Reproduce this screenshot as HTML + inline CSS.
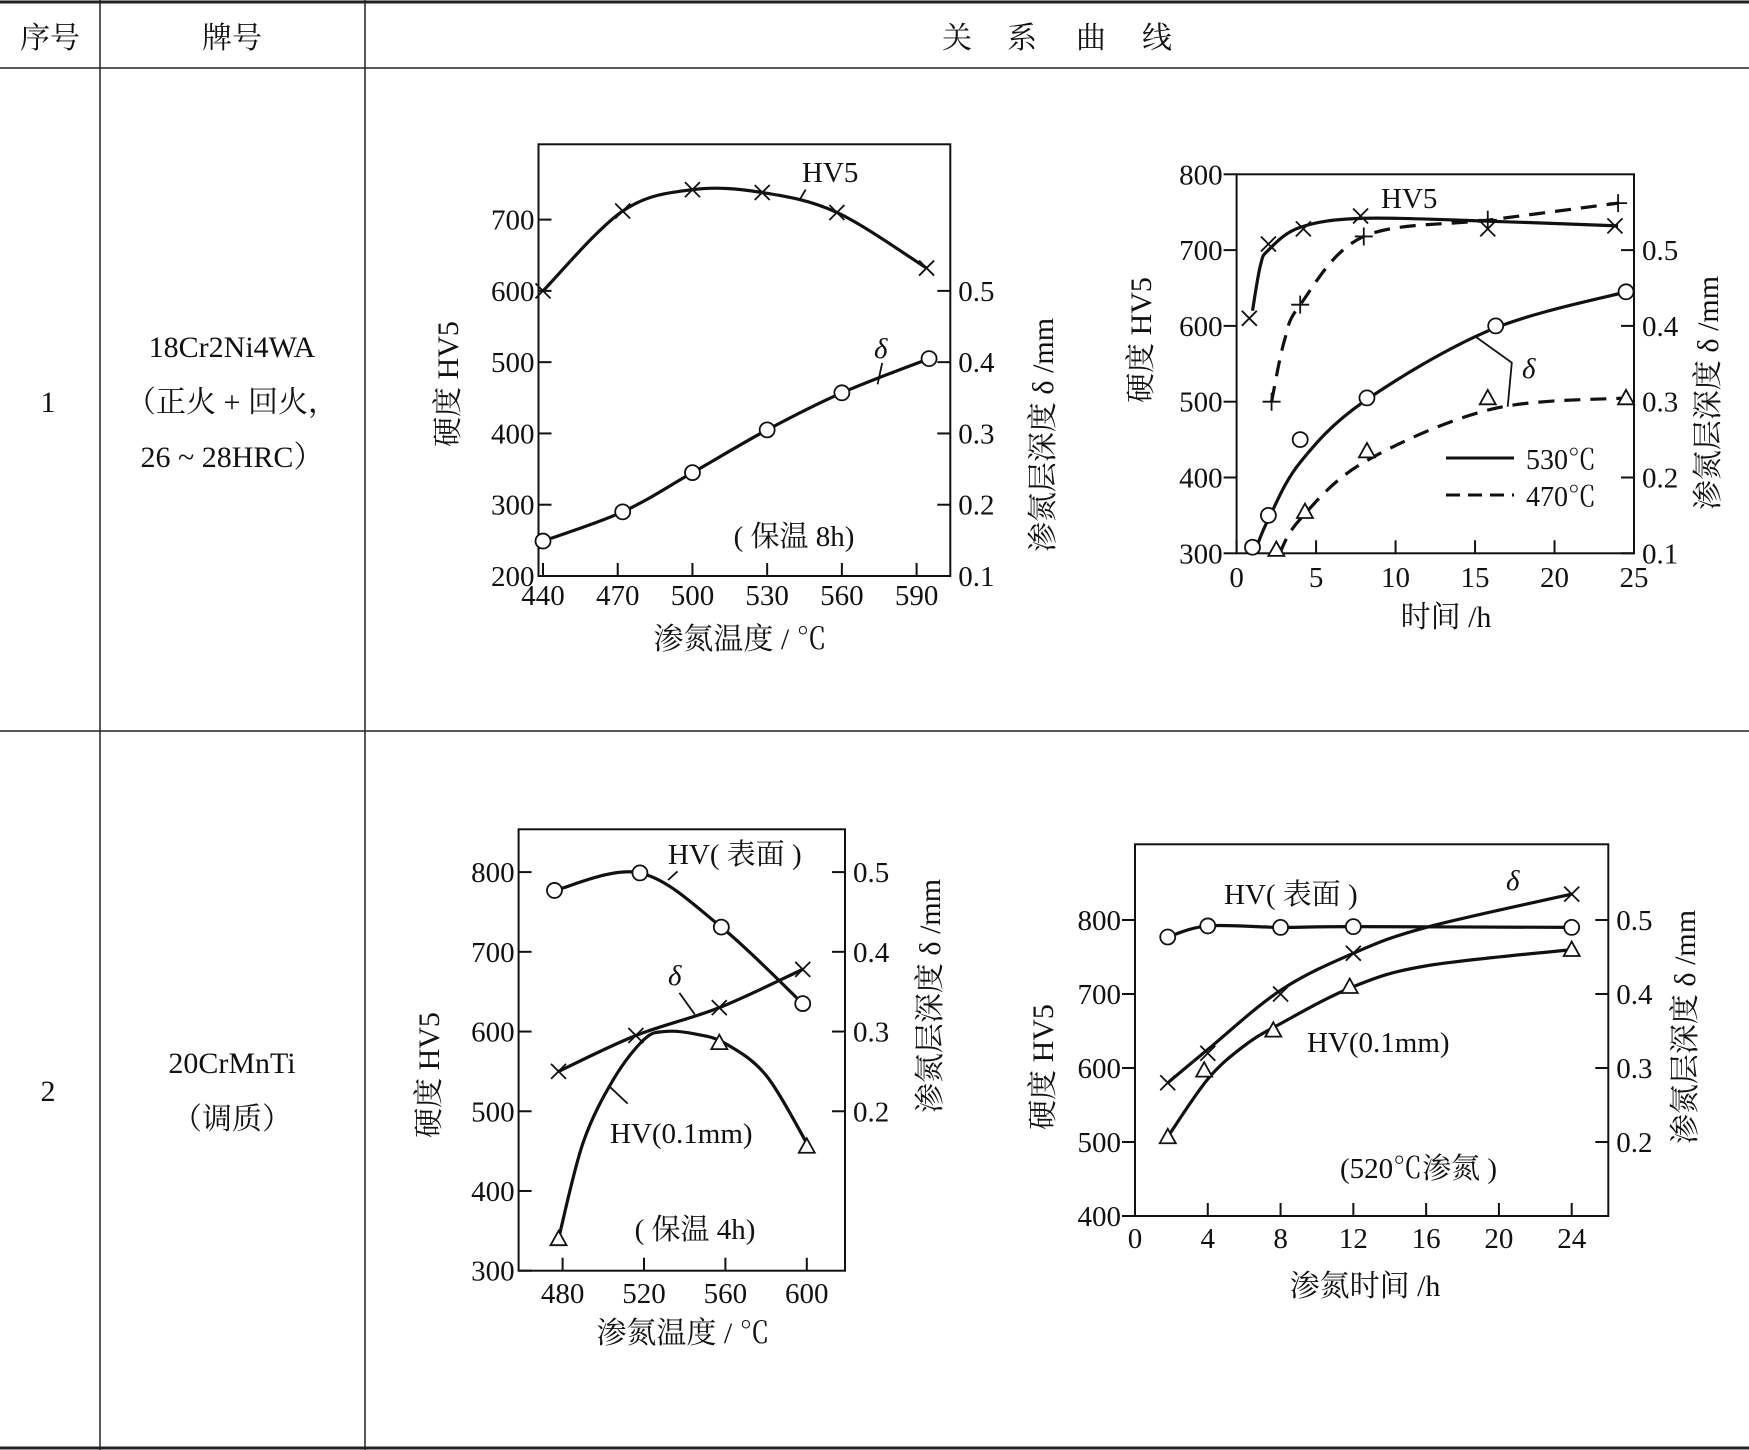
<!DOCTYPE html>
<html><head><meta charset="utf-8">
<style>
html,body{margin:0;padding:0;background:#fff;}
svg{display:block;}
text{font-family:"Liberation Serif","Noto Serif CJK SC",serif;fill:#111;}
</style></head>
<body>
<svg id="s" width="1749" height="1450" viewBox="0 0 1749 1450" xmlns="http://www.w3.org/2000/svg">
<g stroke="#222" fill="none">
<line x1="0" y1="2" x2="1749" y2="2" stroke-width="3"/>
<line x1="0" y1="68" x2="1749" y2="68" stroke-width="1.5"/>
<line x1="0" y1="731" x2="1749" y2="731" stroke-width="1.5"/>
<line x1="0" y1="1448" x2="1749" y2="1448" stroke-width="3"/>
<line x1="100" y1="0" x2="100" y2="1450" stroke-width="1.5"/>
<line x1="365" y1="0" x2="365" y2="1450" stroke-width="1.5"/>
</g>
<g font-size="30" text-anchor="middle">
<text x="50" y="48">序号</text>
<text x="232" y="48">牌号</text>
<g>
<text x="957" y="48">关</text><text x="1022" y="48">系</text><text x="1091" y="48">曲</text><text x="1157" y="48">线</text>
</g>
<text x="48" y="412">1</text>
<text x="232" y="357">18Cr2Ni4WA</text>
<text x="232" y="412">（正火 + 回火，</text>
<text x="232" y="467">26 ~ 28HRC）</text>
<text x="48" y="1101">2</text>
<text x="232" y="1073">20CrMnTi</text>
<text x="232" y="1129">（调质）</text>
</g>
<g id="charts"></g>
</svg>
<script>
// ---- Chart 1 data (temperature, 8h) ----
const c1Temps = [440, 472, 500, 528, 558, 594];
const c1HV = [600, 712, 742, 738, 710, 632];
const c1DeltaTemps = [440, 472, 500, 530, 560, 595];
const c1Delta = [0.149, 0.19, 0.245, 0.305, 0.357, 0.405];
const c1XTicks = [440, 470, 500, 530, 560, 590];
const c1YTicks = [200, 300, 400, 500, 600, 700];
const c1RTicks = [0.1, 0.2, 0.3, 0.4, 0.5];
// ---- Chart 2 data (time) ----
const c2HV530T = [0.8, 2, 4.2, 7.8, 15.8, 23.8];
const c2HV530 = [610, 708, 728, 745, 728, 732];
const c2HV530CurveT = [1, 1.5, 2, 4, 8, 16, 24];
const c2HV530Curve = [620, 680, 700, 730, 742, 738, 732];
const c2HV470T = [2.2, 4, 8, 15.8, 24];
const c2HV470 = [500, 628, 718, 740, 762];
const c2HV470CurveT = [2.2, 3, 4, 8, 16, 24];
const c2HV470Curve = [500, 580, 628, 718, 740, 762];
const c2D530T = [1, 2, 4, 8.2, 16.3, 24.5];
const c2D530 = [0.108, 0.15, 0.25, 0.305, 0.4, 0.445];
const c2D530CurveT = [1.2, 2, 4, 8, 16, 24.5];
const c2D530Curve = [0.105, 0.145, 0.22, 0.3, 0.395, 0.445];
const c2D470T = [2.5, 4.3, 8.2, 15.8, 24.5];
const c2D470 = [0.105, 0.155, 0.235, 0.305, 0.305];
const c2D470CurveT = [2.7, 4, 8, 16, 24.5];
const c2D470Curve = [0.1, 0.145, 0.22, 0.29, 0.305];
const c2XTicks = [0, 5, 10, 15, 20, 25];
const c2YTicks = [300, 400, 500, 600, 700, 800];
const c2RTicks = [0.1, 0.2, 0.3, 0.4, 0.5];
// ---- Chart 3 data (temperature, 4h) ----
const c3SurfT = [476, 518, 558, 598];
const c3Surf = [777, 799, 731, 635];
const c3DT = [478, 516, 557, 598];
const c3D = [0.25, 0.295, 0.33, 0.378];
const c3HVT = [478, 557, 600];
const c3HV = [340, 586, 456];
const c3HVCurveT = [478, 490, 505, 520, 530, 545, 560, 580, 600];
const c3HVCurve = [340, 460, 540, 590, 600, 597, 585, 545, 460];
const c3XTicks = [480, 520, 560, 600];
const c3YTicks = [300, 400, 500, 600, 700, 800];
const c3RTicks = [0.2, 0.3, 0.4, 0.5];
// ---- Chart 4 data (time, 520C) ----
const c4SurfT = [1.8, 4, 8, 12, 24];
const c4Surf = [777, 792, 790, 791, 790];
const c4DT = [1.8, 4, 8, 12, 24];
const c4D = [0.28, 0.32, 0.40, 0.455, 0.535];
const c4DCurveT = [1.8, 4, 8, 12, 16, 24];
const c4DCurve = [0.28, 0.325, 0.405, 0.455, 0.49, 0.535];
const c4HVT = [1.8, 3.8, 7.6, 11.8, 24];
const c4HV = [507, 597, 651, 710, 760];
const c4HVCurveT = [1.8, 4, 6, 8, 12, 16, 24];
const c4HVCurve = [507, 585, 630, 660, 710, 738, 760];
const c4XTicks = [0, 4, 8, 12, 16, 20, 24];
const c4YTicks = [400, 500, 600, 700, 800];
const c4RTicks = [0.2, 0.3, 0.4, 0.5];

const NS = 'http://www.w3.org/2000/svg';
const root = document.getElementById('charts');
function mk(tag, attrs, parent) {
  const e = document.createElementNS(NS, tag);
  for (const k in attrs) e.setAttribute(k, attrs[k]);
  (parent || root).appendChild(e);
  return e;
}
function lin(d0, d1, p0, p1) { return v => p0 + (v - d0) * (p1 - p0) / (d1 - d0); }
function pathD(pts) {
  if (pts.length < 3) return 'M' + pts.map(p => p.join(',')).join('L');
  let d = 'M' + pts[0][0] + ',' + pts[0][1];
  for (let i = 0; i < pts.length - 1; i++) {
    const p0 = pts[i - 1] || pts[i], p1 = pts[i], p2 = pts[i + 1], p3 = pts[i + 2] || p2;
    const c1 = [p1[0] + (p2[0] - p0[0]) / 6, p1[1] + (p2[1] - p0[1]) / 6];
    const c2 = [p2[0] - (p3[0] - p1[0]) / 6, p2[1] - (p3[1] - p1[1]) / 6];
    d += 'C' + c1.join(',') + ' ' + c2.join(',') + ' ' + p2.join(',');
  }
  return d;
}
function curve(g, xs, ys, sx, sy, name, dash) {
  const pts = xs.map((x, i) => [sx(x), sy(ys[i])]);
  const p = mk('path', { d: pathD(pts), fill: 'none', stroke: '#111', 'stroke-width': 3.2 }, g);
  if (dash) p.setAttribute('stroke-dasharray', '16 10');
  
  
}
function markers(g, xs, ys, sx, sy, kind, name) {
  xs.forEach((x, i) => {
    const cx = sx(x), cy = sy(ys[i]);
    let e;
    if (kind === 'o') e = mk('circle', { cx: cx, cy: cy, r: 7.5, fill: '#fff', stroke: '#111', 'stroke-width': 1.8 }, g);
    else if (kind === 'x') { const s = 7.5; e = mk('path', { d: `M${cx-s},${cy-s}L${cx+s},${cy+s}M${cx-s},${cy+s}L${cx+s},${cy-s}`, stroke: '#111', 'stroke-width': 1.8, fill: 'none' }, g); }
    else if (kind === '+') { const s = 9; e = mk('path', { d: `M${cx-s},${cy}L${cx+s},${cy}M${cx},${cy-s}L${cx},${cy+s}`, stroke: '#111', 'stroke-width': 1.8, fill: 'none' }, g); }
    else { const s = 8; e = mk('path', { d: `M${cx},${cy-s}L${cx+s},${cy+s*0.8}L${cx-s},${cy+s*0.8}Z`, stroke: '#111', 'stroke-width': 1.8, fill: '#fff' }, g); }
    
    
  });
}
function txt(g, x, y, s, name, opts) {
  const t = mk('text', Object.assign({ x: x, y: y, 'font-size': 29 }, opts || {}), g);
  t.textContent = s;
  
  
  return t;
}
function frame(g, box, sx, sy, syR, xt, yt, rt, leftOut, xlabY) {
  const r = mk('rect', { x: box[0], y: box[1], width: box[2] - box[0], height: box[3] - box[1], fill: 'none', stroke: '#111', 'stroke-width': 2 }, g);
  
  
  xt.forEach(v => {
    const x = sx(v);
    mk('line', { x1: x, y1: box[3], x2: x, y2: box[3] - 13, stroke: '#111', 'stroke-width': 2 }, g);
    txt(g, x, xlabY, String(v), 'x-tick-label', { 'text-anchor': 'middle' });
  });
  yt.forEach(v => {
    const y = sy(v);
    mk('line', { x1: box[0], y1: y, x2: leftOut ? box[0] - 13 : box[0] + 13, y2: y, stroke: '#111', 'stroke-width': 2 }, g);
    txt(g, box[0] - (leftOut ? 14 : 4), y + 10, String(v), 'y-tick-label', { 'text-anchor': 'end' });
  });
  rt.forEach(v => {
    const y = syR(v);
    mk('line', { x1: box[2], y1: y, x2: box[2] - 13, y2: y, stroke: '#111', 'stroke-width': 2 }, g);
    txt(g, box[2] + 8, y + 10, v.toFixed(1), 'right-tick-label', {});
  });
}
function vlabel(g, x, y, s, name) {
  return txt(g, 0, 0, s, name, { 'text-anchor': 'middle', 'font-size': 30, transform: `translate(${x + 10},${y}) rotate(-90)` });
}
function group(name) {
  const g = mk('g', {});
  
  
  return g;
}
function lead(g, pts) { mk('path', { d: 'M' + pts.map(p => p.join(',')).join('L'), fill: 'none', stroke: '#111', 'stroke-width': 1.8 }, g); }

// Chart 1
(function () {
  const g = group('chart-temp-8h');
  const box = [538.5, 144.3, 950.3, 576];
  const sx = lin(440, 590, 543, 916.6), sy = lin(200, 700, 576, 219.6);
  const syR = d => sy(100 + d * 1000);
  frame(g, box, sx, sy, syR, c1XTicks, c1YTicks, c1RTicks, false, 605);
  curve(g, c1Temps, c1HV, sx, sy, 'hv5-curve');
  markers(g, c1Temps, c1HV, sx, sy, 'x', 'hv5-point');
  curve(g, c1DeltaTemps, c1Delta, sx, syR, 'delta-curve');
  markers(g, c1DeltaTemps, c1Delta, sx, syR, 'o', 'delta-point');
  txt(g, 802, 182, 'HV5', 'hv5-label');
  lead(g, [[805.7, 189.6], [799.9, 199.3]]);
  txt(g, 874, 358, 'δ', 'delta-label', { 'font-style': 'italic' });
  lead(g, [[882.2, 362.9], [877.6, 384.3]]);
  txt(g, 794, 546, '( 保温 8h)', 'note-label', { 'text-anchor': 'middle' });
  vlabel(g, 448, 384, '硬度 HV5', 'y-axis-title');
  vlabel(g, 1043, 435, '渗氮层深度 δ /mm', 'y2-axis-title');
  txt(g, 740, 649, '渗氮温度 / ℃', 'x-axis-title', { 'text-anchor': 'middle', 'font-size': 30 });
})();

// Chart 2
(function () {
  const g = group('chart-time-hv-delta');
  const box = [1236.6, 174.3, 1634, 553.3];
  const sx = lin(0, 25, 1236.6, 1634), sy = lin(300, 800, 553.3, 174.3);
  const syR = d => sy(200 + d * 1000);
  frame(g, box, sx, sy, syR, c2XTicks, c2YTicks, c2RTicks, true, 587);
  curve(g, c2HV530CurveT, c2HV530Curve, sx, sy, 'hv5-530-curve');
  markers(g, c2HV530T, c2HV530, sx, sy, 'x', 'hv5-530-point');
  curve(g, c2HV470CurveT, c2HV470Curve, sx, sy, 'hv5-470-curve', true);
  markers(g, c2HV470T, c2HV470, sx, sy, '+', 'hv5-470-point');
  curve(g, c2D530CurveT, c2D530Curve, sx, syR, 'delta-530-curve');
  markers(g, c2D530T, c2D530, sx, syR, 'o', 'delta-530-point');
  curve(g, c2D470CurveT, c2D470Curve, sx, syR, 'delta-470-curve', true);
  markers(g, c2D470T, c2D470, sx, syR, 't', 'delta-470-point');
  txt(g, 1381, 208, 'HV5', 'hv5-label');
  txt(g, 1522, 378, 'δ', 'delta-label', { 'font-style': 'italic' });
  lead(g, [[1474.6, 336], [1511.8, 362.7], [1507.7, 406.7]]);
  const l1 = mk('line', { x1: 1446, y1: 458, x2: 1514, y2: 458, stroke: '#111', 'stroke-width': 3 }, g);
   
  txt(g, 1526, 469, '530℃', 'legend-530-label', { 'font-size': 28 });
  const l2 = mk('line', { x1: 1446, y1: 495, x2: 1514, y2: 495, stroke: '#111', 'stroke-width': 3, 'stroke-dasharray': '14 8' }, g);
   
  txt(g, 1526, 506, '470℃', 'legend-470-label', { 'font-size': 28 });
  vlabel(g, 1141, 340, '硬度 HV5', 'y-axis-title');
  vlabel(g, 1708, 393, '渗氮层深度 δ /mm', 'y2-axis-title');
  txt(g, 1446, 627, '时间 /h', 'x-axis-title', { 'text-anchor': 'middle', 'font-size': 30 });
})();

// Chart 3
(function () {
  const g = group('chart-temp-4h');
  const box = [518.6, 829.3, 845, 1270.7];
  const sx = lin(480, 600, 562.6, 806.8), sy = lin(300, 800, 1270.7, 872.1);
  const syR = d => sy(300 + d * 1000);
  frame(g, box, sx, sy, syR, c3XTicks, c3YTicks, c3RTicks, false, 1303);
  curve(g, c3SurfT, c3Surf, sx, sy, 'hv-surface-curve');
  markers(g, c3SurfT, c3Surf, sx, sy, 'o', 'hv-surface-point');
  curve(g, c3DT, c3D, sx, syR, 'delta-curve');
  markers(g, c3DT, c3D, sx, syR, 'x', 'delta-point');
  curve(g, c3HVCurveT, c3HVCurve, sx, sy, 'hv-01mm-curve');
  markers(g, c3HVT, c3HV, sx, sy, 't', 'hv-01mm-point');
  txt(g, 668, 864, 'HV( 表面 )', 'hv-surface-label');
  lead(g, [[677.5, 871.4], [668, 880]]);
  txt(g, 668, 985, 'δ', 'delta-label', { 'font-style': 'italic' });
  lead(g, [[679.4, 992.9], [694.7, 1014.3]]);
  txt(g, 610, 1143, 'HV(0.1mm)', 'hv-01mm-label');
  lead(g, [[608.6, 1085.7], [627.7, 1103.6]]);
  txt(g, 695, 1239, '( 保温 4h)', 'note-label', { 'text-anchor': 'middle' });
  vlabel(g, 429, 1075, '硬度 HV5', 'y-axis-title');
  vlabel(g, 930, 996, '渗氮层深度 δ /mm', 'y2-axis-title');
  txt(g, 683, 1343, '渗氮温度 / ℃', 'x-axis-title', { 'text-anchor': 'middle', 'font-size': 30 });
})();

// Chart 4
(function () {
  const g = group('chart-time-520');
  const box = [1135, 844.3, 1608.3, 1216];
  const sx = lin(0, 24, 1135, 1571.7), sy = lin(400, 800, 1216, 920);
  const syR = d => sy(300 + d * 1000);
  frame(g, box, sx, sy, syR, c4XTicks, c4YTicks, c4RTicks, true, 1248);
  curve(g, c4SurfT, c4Surf, sx, sy, 'hv-surface-curve');
  markers(g, c4SurfT, c4Surf, sx, sy, 'o', 'hv-surface-point');
  curve(g, c4DCurveT, c4DCurve, sx, syR, 'delta-curve');
  markers(g, c4DT, c4D, sx, syR, 'x', 'delta-point');
  curve(g, c4HVCurveT, c4HVCurve, sx, sy, 'hv-01mm-curve');
  markers(g, c4HVT, c4HV, sx, sy, 't', 'hv-01mm-point');
  txt(g, 1224, 904, 'HV( 表面 )', 'hv-surface-label');
  txt(g, 1506, 890, 'δ', 'delta-label', { 'font-style': 'italic' });
  txt(g, 1307, 1052, 'HV(0.1mm)', 'hv-01mm-label');
  txt(g, 1340, 1178, '(520℃渗氮 )', 'note-label');
  vlabel(g, 1043, 1067, '硬度 HV5', 'y-axis-title');
  vlabel(g, 1685, 1027, '渗氮层深度 δ /mm', 'y2-axis-title');
  txt(g, 1365, 1296, '渗氮时间 /h', 'x-axis-title', { 'text-anchor': 'middle', 'font-size': 30 });
})();
</script>
</body></html>
